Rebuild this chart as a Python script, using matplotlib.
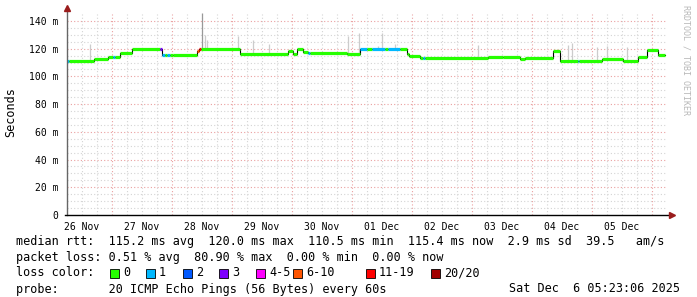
"""
SmokePing latency chart (10 days) - recreation
"""
import numpy as np
import matplotlib
matplotlib.use('Agg')
import matplotlib.pyplot as plt
from matplotlib.patches import Rectangle

matplotlib.rcParams['font.family'] = ['DejaVu Sans Mono']
matplotlib.rcParams['font.size'] = 8.5

# ========== data ==========
# hours since 26 Nov 06:00, median rtt in ms, loss class index
seg_start = [0, 0.8, 10.8, 16.4, 18.4, 19.2, 21.2, 26.0, 37.2, 38.0, 39.0, 40.0, 41.0,
             42.2, 52.0, 52.8, 53.6, 69.2, 88.4, 90.4, 92.0, 94.4, 96.4, 97.0,
             112.0, 117.2, 120.0, 122.0, 127.0, 128.5, 133.0, 136.0, 136.8, 141.2,
             142.2, 143.0, 168.4, 174.4, 181.2, 183.2, 194.4, 197.2, 204.2, 204.8,
             214.0, 222.4, 228.4, 232.0, 236.4]
seg_end = 239.2
seg_value = [111.0, 111.0, 112.4, 113.8, 113.8, 113.8, 116.7, 119.6, 119.6, 115.2, 115.2,
             115.2, 115.2, 115.2, 118.0, 119.6, 119.6, 116.2, 118.3, 116.2, 119.6, 117.8,
             116.9, 116.9, 116.4, 120.0, 120.0, 120.0, 120.0, 120.0, 120.0, 116.0, 114.7,
             113.5, 113.5, 113.5, 113.8, 114.2, 112.4, 113.5, 118.3, 111.1, 111.1, 111.1,
             112.4, 111.1, 114.2, 119.1, 115.4]
seg_loss = [1, 0, 0, 0, 1, 0, 0, 0, 3, 1, 0, 1, 0,
            0, 5, 6, 0, 0, 0, 0, 0, 0, 1, 0,
            0, 1, 0, 1, 0, 1, 0, 0, 0, 0,
            1, 0, 0, 0, 0, 0, 0, 0, 1, 0,
            0, 0, 0, 0, 0]

# smoke spikes (hour, top of spread in ms)
smoke_hour = [9.2, 55.2, 56.0, 68.4, 74.4, 80.8, 112.4, 116.8, 124.4, 126.0,
              131.2, 164.4, 200.4, 202.0, 212.0, 216.0, 224.0]
smoke_top = [123.4, 130.0, 126.5, 129.2, 126.3, 123.4, 129.0, 131.0, 122.0, 131.5,
             123.5, 122.7, 122.7, 124.0, 121.4, 122.0, 121.0]
peak_hour = 54.0
peak_top = 146.0

day_labels = ['26 Nov', '27 Nov', '28 Nov', '29 Nov', '30 Nov',
              '01 Dec', '02 Dec', '03 Dec', '04 Dec', '05 Dec']
y_ticks = [0, 20, 40, 60, 80, 100, 120, 140]
y_labels = ['0', '20 m', '40 m', '60 m', '80 m', '100 m', '120 m', '140 m']

loss_names = ['0', '1', '2', '3', '4-5', '6-10', '11-19', '20/20']
loss_colors = ['#26ff00', '#00b8ff', '#0059ff', '#7e00ff', '#ff00ff',
               '#ff5500', '#ff0000', '#a10000']

stats_lines = [
    'median rtt:  115.2 ms avg  120.0 ms max  110.5 ms min  115.4 ms now  2.9 ms sd  39.5   am/s',
    'packet loss: 0.51 % avg  80.90 % max  0.00 % min  0.00 % now',
]
probe_line = 'probe:       20 ICMP Echo Pings (56 Bytes) every 60s'
stamp = 'Sat Dec  6 05:23:06 2025'

W, H = 697, 297


def px(x, y):
    """pixel (top-left origin) -> figure fraction"""
    return x / W, 1 - y / H


def main():
    fig = plt.figure(figsize=(W / 100, H / 100), dpi=100)
    fig.patch.set_facecolor('white')
    ax = fig.add_axes([67 / W, (H - 215) / H, 600 / W, 201 / H])
    ax.set_xlim(0, 240)
    ax.set_ylim(0, 145)
    for s in ax.spines.values():
        s.set_visible(False)

    # grid
    dots = (0, (1, 2))
    for v in np.arange(5, 145, 5):
        major = v % 20 == 0
        ax.axhline(v, color='#eaa0a0' if major else '#d4d4d4', lw=0.8, ls=dots, zorder=0)
    for h in np.arange(6, 240, 6):
        major = (h - 18) % 24 == 0
        ax.axvline(h, color='#eaa0a0' if major else '#d4d4d4', lw=0.8, ls=dots, zorder=0)

    # smoke
    starts = np.array(seg_start)
    ends = np.append(starts[1:], seg_end)
    vals = np.array(seg_value)

    def median_at(h):
        i = np.searchsorted(starts, h, side='right') - 1
        return vals[i]

    for h, top in zip(smoke_hour, smoke_top):
        ax.vlines(h, median_at(h), top, color='#cccccc', lw=0.9, zorder=1)
    ax.vlines(peak_hour, median_at(peak_hour), peak_top, color='#999999', lw=0.9, zorder=1,
              clip_on=False)

    # median line
    ax.step(np.append(starts, seg_end), np.append(vals, vals[-1]), where='post',
            color='black', lw=0.8, zorder=2)
    ax.hlines(vals, starts, ends, colors=[loss_colors[i] for i in seg_loss], lw=2.3, zorder=3)

    # ticks
    ax.set_yticks(y_ticks)
    ax.set_yticklabels(y_labels, fontsize=7)
    ax.set_xticks([6 + 24 * i for i in range(len(day_labels))])
    ax.set_xticklabels(day_labels, fontsize=7)
    ax.tick_params(axis='y', length=0, pad=6)
    ax.tick_params(axis='x', length=0, pad=5)

    # axes with arrows
    ax.plot([0, 0], [0, 148.5], color='#666666', lw=1, clip_on=False, zorder=4)
    ax.plot([-0.8, 241.5], [0, 0], color='black', lw=1, clip_on=False, zorder=4)
    ax.plot([0], [149.5], marker='^', color='#9a1c1c', ms=4.5, clip_on=False, zorder=5)
    ax.plot([241.8], [0], marker='>', color='#9a1c1c', ms=4.5, clip_on=False, zorder=5)

    fig.text(*px(11, 112), 'Seconds', rotation=90, ha='center', va='center', fontsize=8.5)
    fig.text(*px(686, 60), 'RRDTOOL / TOBI OETIKER', rotation=270, ha='center', va='center',
             fontsize=6, color='#b8b8b8')

    # legend / stats
    fig.text(*px(16, 241), stats_lines[0], va='center')
    fig.text(*px(16, 257), stats_lines[1], va='center')
    fig.text(*px(16, 273), 'loss color:', va='center')
    sq_x = [110, 146, 183, 219, 256, 293, 366, 431]
    for x, name, c in zip(sq_x, loss_names, loss_colors):
        fx, fy = px(x, 277.5)
        fig.patches.append(Rectangle((fx, fy), 9 / W, 9 / H, transform=fig.transFigure,
                                     facecolor=c, edgecolor='black', lw=0.6))
        fig.text(*px(x + 13, 273), name, va='center')
    fig.text(*px(16, 289), probe_line, va='center')
    fig.text(*px(680, 289), stamp, va='center', ha='right')

    fig.savefig('out.png', dpi=100)
    plt.close(fig)


if __name__ == '__main__':
    main()
